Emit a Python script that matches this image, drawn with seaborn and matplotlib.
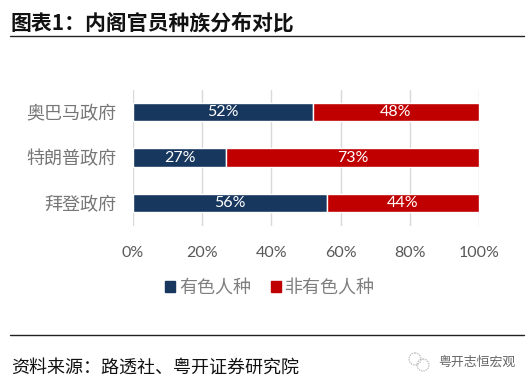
import matplotlib
matplotlib.use("Agg")
import matplotlib.pyplot as plt
from matplotlib.patches import Circle, Patch
from matplotlib.ticker import PercentFormatter
import pandas as pd
import seaborn as sns

# values
governments = ["奥巴马政府", "特朗普政府", "拜登政府"]
colored = [52, 27, 56]
non_colored = [48, 73, 44]
series_names = ["有色人种", "非有色人种"]

TITLE = "图表1：内阁官员种族分布对比"
SOURCE = "资料来源：路透社、粤开证券研究院"
WATERMARK = "粤开志恒宏观"

NAVY = "#17375e"
RED = "#c00000"
GREY = "#7f7f7f"
W, H = 532, 384

sns.set_theme(style="white")
plt.rcParams["font.family"] = ["Noto Sans CJK SC", "DejaVu Sans"]

df = pd.DataFrame({"gov": governments, "colored": colored, "non": non_colored})

fig = plt.figure(figsize=(W / 100, H / 100), dpi=100)
ax = fig.add_axes([133 / W, 1 - 225.5 / H, 346 / W, 136 / H])

# Stacked bars, one layer per series
sns.barplot(data=df, y="gov", x="colored", color=NAVY, width=0.41, saturation=1, ax=ax)
sns.barplot(data=df, y="gov", x="non", left=df["colored"], color=RED, width=0.41,
            saturation=1, ax=ax)
for bars in ax.containers:
    ax.bar_label(bars, labels=[f"{b.get_width():.0f}%" for b in bars], label_type="center",
                 color="white", fontsize=11.5, family="Lato")

ax.set_xlim(0, 100)
ax.set_xlabel("")
ax.set_ylabel("")
ax.xaxis.set_major_formatter(PercentFormatter(100))
ax.set_xticks([0, 20, 40, 60, 80, 100])
ax.grid(axis="x", color="#d9d9d9", lw=1)
ax.set_axisbelow(True)
sns.despine(ax=ax, left=True, bottom=True, top=True, right=True)
ax.tick_params(axis="x", length=0, pad=15, labelcolor="#595959")
ax.tick_params(axis="y", length=0, pad=12, labelcolor="#767676")
for t in ax.get_xticklabels():
    t.set_family("Lato")
    t.set_fontsize(11.5)
for t in ax.get_yticklabels():
    t.set_fontsize(13)
    t.set_fontweight("light")

# Legend under the chart
handles = [Patch(color=NAVY), Patch(color=RED)]
fig.legend(handles, series_names, loc="center", bbox_to_anchor=(270 / W, 1 - 288 / H), ncol=2,
           frameon=False, fontsize=13, labelcolor=GREY, handlelength=0.55, handleheight=0.55,
           handletextpad=0.25, columnspacing=1.1, borderpad=0)

# Report furniture: title, rules, source, watermark
fig.text(11 / W, 1 - 23 / H, TITLE, fontsize=15, fontweight="bold", color="#111111", va="center")
fig.text(11 / W, 1 - 368 / H, SOURCE, fontsize=13, color="#111111", va="center", style="italic")
fig.text(438 / W, 1 - 362 / H, WATERMARK, fontsize=9.3, color="#666666", va="center", fontweight="light")
for y, lw in [(36, 1), (334.5, 1)]:
    fig.add_artist(plt.Line2D([10 / W, 524 / W], [1 - y / H, 1 - y / H], color="#222222", lw=lw))

# Small chat icon next to the watermark
overlay = fig.add_axes([0, 0, 1, 1], facecolor="none")
overlay.set_xlim(0, W)
overlay.set_ylim(H, 0)
overlay.axis("off")
overlay.add_patch(Circle((415, 359), 6, fill=False, ec="#aaaaaa", lw=0.7, ls=(0, (1.5, 1))))
overlay.add_patch(Circle((423, 365), 6, fill=False, ec="#aaaaaa", lw=0.7, ls=(0, (1.5, 1))))

fig.savefig("out.png", dpi=100)
